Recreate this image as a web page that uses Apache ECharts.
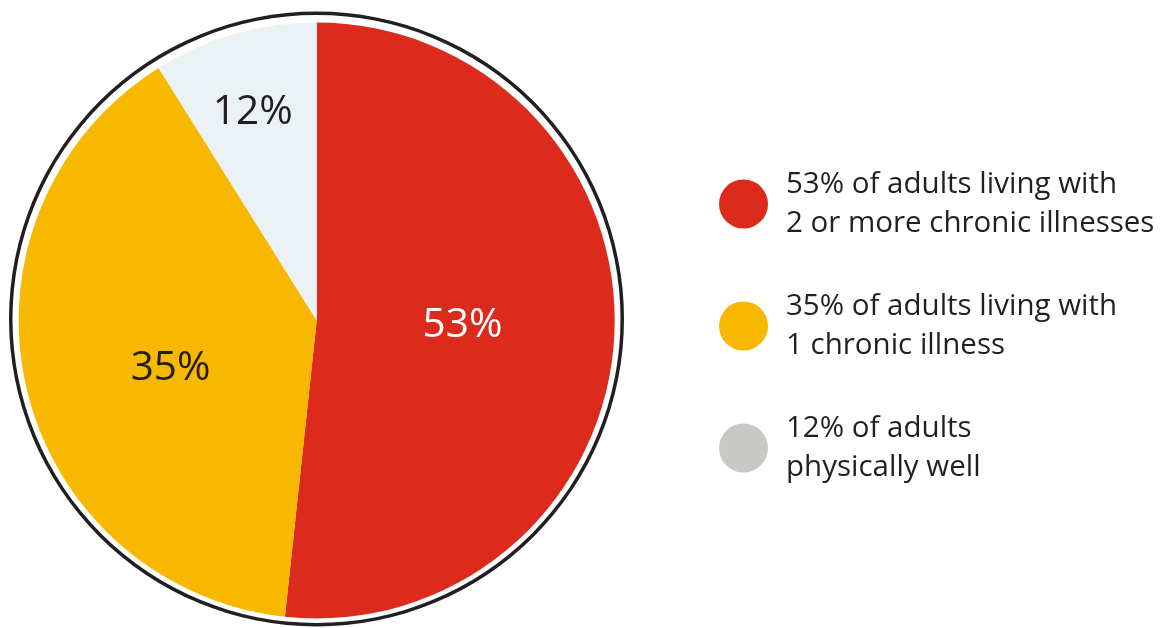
<!DOCTYPE html>
<html>
<head>
<meta charset="utf-8">
<script src="https://cdn.jsdelivr.net/npm/echarts@6/dist/echarts.min.js"></script>
<style>
html,body{margin:0;padding:0;background:#fff;}
#chart{width:1160px;height:628px;}
</style>
</head>
<body>
<div id="chart"></div>
<script>
// Data
const categories = ['two_plus', 'one', 'well'];
// slice shares as drawn (angles measured on the picture, in %)
const sliceShares = [51.7, 39.4, 8.9];
// labels printed on the slices
const sliceLabels = ['53%', '35%', '12%'];
const legendTexts = [
  '53% of adults living with\n2 or more chronic illnesses',
  '35% of adults living with\n1 chronic illness',
  '12% of adults\nphysically well'
];

const sliceColors = ['#DC2A1C', '#F9B800', '#EAF2F5'];
const legendColors = ['#DC2A1C', '#F9B800', '#C8C8C4'];
const labelColors = ['#ffffff', '#231F20', '#231F20'];
const labelShift = [[-6, -3], [2, 14], [-22, -62]];
const FONT = '"Open Sans"';

const chart = echarts.init(document.getElementById('chart'), null, {renderer: 'canvas'});

const pieData = categories.map((c, i) => ({
  name: c,
  value: sliceShares[i],
  itemStyle: {color: sliceColors[i]},
  label: {formatter: sliceLabels[i], color: labelColors[i]}
}));

chart.setOption({
  animation: false,
  backgroundColor: '#ffffff',
  legend: {
    orient: 'vertical',
    left: 719,
    top: 165,
    padding: 0,
    itemWidth: 49,
    itemHeight: 49,
    itemGap: 44,
    icon: 'circle',
    selectedMode: false,
    data: categories.map((c, i) => ({name: c, itemStyle: {color: legendColors[i]}})),
    formatter: name => legendTexts[categories.indexOf(name)],
    textStyle: {
      fontFamily: FONT,
      fontSize: 29.5,
      lineHeight: 39,
      color: '#231F20',
      padding: [0, 0, 0, 13]
    }
  },
  series: [
    {
      type: 'pie',
      silent: true,
      center: [316.5, 319],
      radius: [304, 307.5],
      label: {show: false},
      labelLine: {show: false},
      itemStyle: {color: '#231F20'},
      data: [{name: 'ring', value: 1}]
    },
    {
      type: 'pie',
      silent: true,
      center: [316.7, 320.5],
      radius: [0, 298],
      startAngle: 90,
      clockwise: true,
      avoidLabelOverlap: false,
      label: {
        show: true,
        position: 'inside',
        fontFamily: FONT,
        fontSize: 40.5,
        fontWeight: 'normal'
      },
      labelLine: {show: false},
      labelLayout: params => ({dx: labelShift[params.dataIndex][0], dy: labelShift[params.dataIndex][1]}),
      data: pieData
    }
  ]
});
</script>
</body>
</html>
